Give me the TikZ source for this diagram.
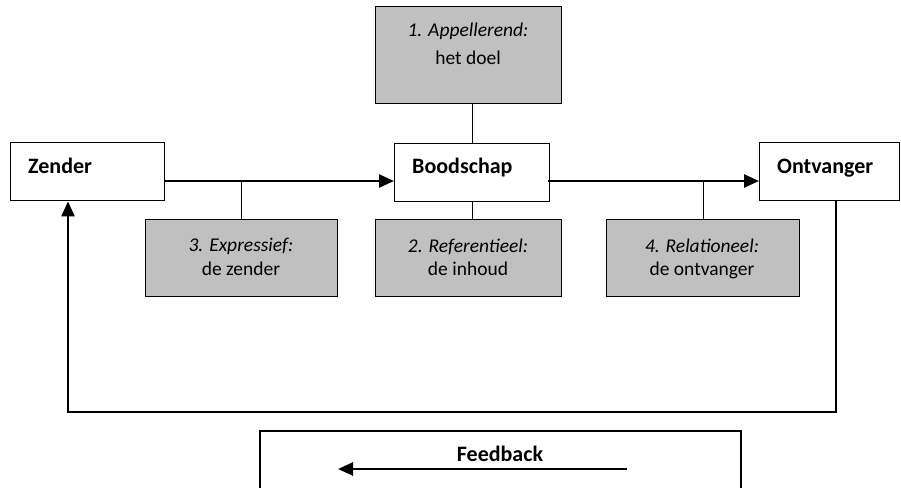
\documentclass[tikz,border=0pt]{standalone}
\usepackage{fontspec}
\setmainfont{Carlito}
\usetikzlibrary{arrows.meta,calc}
\begin{document}
\begin{tikzpicture}[x=1pt,y=-1pt,
  wbox/.style={draw=black,line width=1.4pt,fill=white,inner sep=0pt,anchor=north west},
  gbox/.style={draw=black,line width=1.4pt,fill=gray75,inner sep=0pt,anchor=north west},
  flow/.style={line width=2.6pt,-{Triangle[length=15pt,width=13pt]}},
  tick/.style={line width=1.4pt},
  head/.style={font=\fontsize{22}{26}\selectfont\bfseries,anchor=base west,inner sep=0pt},
  lab/.style={font=\fontsize{19.5}{24}\selectfont,anchor=base,inner sep=0pt},
  ilab/.style={font=\fontsize{19.5}{24}\selectfont\itshape,anchor=base,inner sep=0pt}
]
\definecolor{gray75}{RGB}{192,192,192}
\useasboundingbox (0,0) rectangle (901,487);
% main boxes
\node[wbox,minimum width=154pt,minimum height=58pt] (zender) at (10,142) {};
\node[wbox,minimum width=155pt,minimum height=58pt] (bood) at (394,143) {};
\node[wbox,minimum width=140pt,minimum height=58pt] (ontv) at (759,142) {};
\node[head] (tz) at (28,173) {Zender};
\node[head] (tb) at (412,173) {Boodschap};
\node[head] (to) at (777,173) {Ontvanger};
% gray boxes
\node[gbox,minimum width=186pt,minimum height=97pt] (app) at (375,6) {};
\node[gbox,minimum width=192pt,minimum height=77pt] (expr) at (145,219) {};
\node[gbox,minimum width=186pt,minimum height=77pt] (ref) at (375,219) {};
\node[gbox,minimum width=193pt,minimum height=77pt] (rel) at (606,219) {};
\node[ilab] (app1) at (468,37) {1. Appellerend:};
\node[lab] (app2) at (468,64) {het doel};
\node[ilab] (expr1) at (241,251) {3. Expressief:};
\node[lab] (expr2) at (241,275) {de zender};
\node[ilab] (ref1) at (468,252) {2. Referentieel:};
\node[lab] (ref2) at (468,275) {de inhoud};
\node[ilab] (rel1) at (702,252) {4. Relationeel:};
\node[lab] (rel2) at (702,275) {de ontvanger};
% flow arrows
\coordinate (a1) at (164,181);
\coordinate (a2) at (548,181);
\draw[flow] (a1) -- (a1 -| bood.west);
\draw[flow] (a2) -- (a2 -| ontv.west);
% ticks
\draw[tick] (expr.north) -- (expr.north |- a1);
\draw[tick] (rel.north) -- (rel.north |- a2);
\draw[tick] (app.south -| bood.north) -- (bood.north);
\draw[tick] (bood.south) -- (ref.north -| bood.south);
% feedback loop
\coordinate (fb) at (836,412);
\coordinate (fz) at (68,412);
\draw[line width=2.6pt,-{Triangle[length=15pt,width=13pt]}] (ontv.south -| fb) -- (fb) -- (fz) -- (fz |- zender.south);
% feedback box
\coordinate (fbl) at (260,431);
\coordinate (fbr) at (741,431);
\draw[line width=1.4pt] (260,490) -- (fbl) -- (fbr) -- (741,490);
\node[font=\fontsize{22}{26}\selectfont\bfseries,anchor=base,inner sep=0pt] (fbt) at (500,461) {Feedback};
\coordinate (fa1) at (627,469);
\coordinate (fa2) at (338,469);
\draw[flow] (fa1) -- (fa2);
\end{tikzpicture}
\end{document}
